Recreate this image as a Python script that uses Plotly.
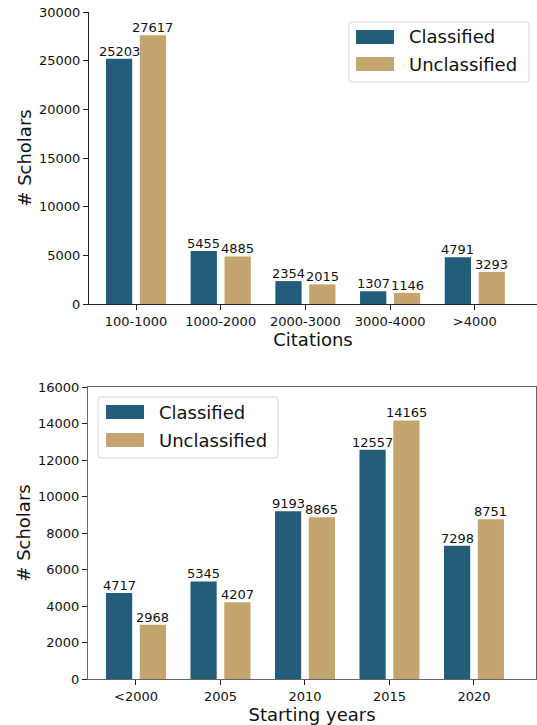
import plotly.graph_objects as go

citation_bins = ["100-1000", "1000-2000", "2000-3000", "3000-4000", ">4000"]
cit_classified = [25203, 5455, 2354, 1307, 4791]
cit_unclassified = [27617, 4885, 2015, 1146, 3293]
cit_yticks = [0, 5000, 10000, 15000, 20000, 25000, 30000]

year_bins = ["<2000", "2005", "2010", "2015", "2020"]
yr_classified = [4717, 5345, 9193, 12557, 7298]
yr_unclassified = [2968, 4207, 8865, 14165, 8751]
yr_yticks = [0, 2000, 4000, 6000, 8000, 10000, 12000, 14000, 16000]

series_names = ["Classified", "Unclassified"]

C_CLS = "#235d7a"
C_UNC = "#c4a46f"
COLORS = [C_CLS, C_UNC]
FONT = "DejaVu Sans"

fig = go.Figure()
annotations = []

BAR_W = 0.31
OFFSETS = [-0.355, 0.045]

def add_pair(xax, yax, cats, v1, v2):
    idx = list(range(len(cats)))
    for k, (vals, name, col) in enumerate([(v1, series_names[0], C_CLS), (v2, series_names[1], C_UNC)]):
        fig.add_trace(go.Bar(x=idx, y=vals, name=name, marker_color=col,
                             width=BAR_W, offset=OFFSETS[k],
                             xaxis=xax, yaxis=yax, showlegend=False,
                             marker_line_width=0))
        for i, v in zip(idx, vals):
            annotations.append(dict(xref=xax, yref=yax, x=i + OFFSETS[k] + BAR_W / 2, y=v,
                                    text=str(v), showarrow=False, xanchor="center",
                                    yanchor="bottom", yshift=-2,
                                    font=dict(size=13, color="#111", family=FONT)))

add_pair("x", "y", citation_bins, cit_classified, cit_unclassified)
add_pair("x2", "y2", year_bins, yr_classified, yr_unclassified)

W, H = 537, 725
def px_x(p):
    return p / W
def px_y(p):
    return 1 - p / H

axis_common = dict(showgrid=False, zeroline=False, ticks="outside", ticklen=5,
                   tickfont=dict(size=13, family=FONT, color="#111"), showline=True,
                   automargin=False)

# manual legends (matplotlib-style wide patches)
shapes = []
def legend_box(x0, y0, x1, y1, patch_x0, patch_ys, text_x):
    r = 3
    path = (f"M {px_x(x0+r)},{px_y(y0)} L {px_x(x1-r)},{px_y(y0)} "
            f"Q {px_x(x1)},{px_y(y0)} {px_x(x1)},{px_y(y0+r)} "
            f"L {px_x(x1)},{px_y(y1-r)} Q {px_x(x1)},{px_y(y1)} {px_x(x1-r)},{px_y(y1)} "
            f"L {px_x(x0+r)},{px_y(y1)} Q {px_x(x0)},{px_y(y1)} {px_x(x0)},{px_y(y1-r)} "
            f"L {px_x(x0)},{px_y(y0+r)} Q {px_x(x0)},{px_y(y0)} {px_x(x0+r)},{px_y(y0)} Z")
    shapes.append(dict(type="path", xref="paper", yref="paper", path=path,
                       fillcolor="rgba(255,255,255,0.85)", line=dict(color="#d6d6d6", width=1), layer="above"))
    for i, (py, name) in enumerate(zip(patch_ys, series_names)):
        shapes.append(dict(type="rect", xref="paper", yref="paper",
                           x0=px_x(patch_x0), x1=px_x(patch_x0 + 38),
                           y0=px_y(py + 7), y1=px_y(py - 7),
                           fillcolor=COLORS[i], line=dict(width=0), layer="above"))
        annotations.append(dict(xref="paper", yref="paper", x=px_x(text_x), y=px_y(py),
                                xanchor="left", yanchor="middle", showarrow=False,
                                text=name, font=dict(size=18, family=FONT, color="#111")))

legend_box(349, 22, 529, 82, 356, [37, 64], 407)
legend_box(98, 397, 278, 458, 106, [412, 440], 157)

fig.update_layout(
    width=W, height=H, margin=dict(l=0, r=0, t=0, b=0, autoexpand=False),
    plot_bgcolor="white", paper_bgcolor="white",
    font=dict(family=FONT, color="#111"),
    barmode="overlay",
    shapes=shapes, annotations=annotations,
    xaxis=dict(domain=[px_x(89), 1.0], range=[-0.555, 4.734], anchor="y",
               tickvals=list(range(5)), ticktext=citation_bins,
               linecolor="#222", tickcolor="#222",
               title=dict(text="Citations", font=dict(size=18, family=FONT), standoff=4),
               **axis_common),
    yaxis=dict(domain=[px_y(304), px_y(12)], range=[0, 30000], anchor="x",
               tickvals=cit_yticks, ticktext=[str(v) for v in cit_yticks],
               linecolor="#222", tickcolor="#222", mirror=False,
               title=dict(text="# Scholars", font=dict(size=18, family=FONT), standoff=2),
               **axis_common),
    xaxis2=dict(domain=[px_x(88), px_x(536)], range=[-0.568, 4.734], anchor="y2",
                tickvals=list(range(5)), ticktext=year_bins,
                linecolor="#666", tickcolor="#222", mirror=True,
                title=dict(text="Starting years", font=dict(size=18, family=FONT), standoff=4),
                **axis_common),
    yaxis2=dict(domain=[px_y(679), px_y(387)], range=[0, 16000], anchor="x2",
                tickvals=yr_yticks, ticktext=[str(v) for v in yr_yticks],
                linecolor="#666", tickcolor="#222", mirror=True,
                title=dict(text="# Scholars", font=dict(size=18, family=FONT), standoff=2),
                **axis_common),
)

fig.write_html("out.html", config={"displayModeBar": False},
               post_script="document.body.style.margin='0';document.body.style.overflow='hidden';")
